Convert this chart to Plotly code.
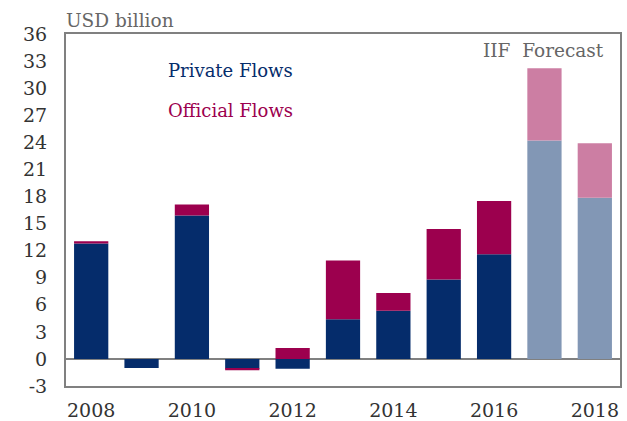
import plotly.graph_objects as go

# Capital flows, USD billion (2017-2018 are IIF forecasts)
years = ["2008", "2009", "2010", "2011", "2012", "2013", "2014", "2015", "2016", "2017", "2018"]
private_flows = [12.8, -1.0, 15.9, -1.1, -1.1, 4.4, 5.35, 8.8, 11.6, 24.2, 17.85]
official_flows = [0.25, 0.0, 1.2, -0.15, 1.2, 6.5, 1.95, 5.6, 5.9, 8.0, 6.05]
forecast_years = ["2017", "2018"]
tick_years = ["2008", "2010", "2012", "2014", "2016", "2018"]
y_ticks = [-3, 0, 3, 6, 9, 12, 15, 18, 21, 24, 27, 30, 33, 36]

NAVY, CRIMSON = "#052c6b", "#9c004e"
NAVY_FC, CRIMSON_FC = "#8297b5", "#cc7ea3"

priv_colors = [NAVY_FC if y in forecast_years else NAVY for y in years]
off_colors = [CRIMSON_FC if y in forecast_years else CRIMSON for y in years]

FONT = "Georgia, 'DejaVu Serif', serif"

fig = go.Figure()
fig.add_trace(go.Bar(x=years, y=private_flows, marker=dict(color=priv_colors, line=dict(width=0)),
                     name="Private Flows", width=0.68))
fig.add_trace(go.Bar(x=years, y=official_flows, marker=dict(color=off_colors, line=dict(width=0)),
                     name="Official Flows", width=0.68))

fig.update_layout(
    width=627, height=421,
    margin=dict(l=66, r=7, t=34, b=35),
    barmode="relative",
    showlegend=False,
    plot_bgcolor="white", paper_bgcolor="white",
    font=dict(family=FONT, size=18, color="#333333"),
    xaxis=dict(type="category", range=[-0.5, 10.5], tickmode="array", tickvals=tick_years,
               ticktext=tick_years, showline=True, mirror=True, linecolor="#808080", linewidth=2,
               ticks="", showgrid=False, tickfont=dict(size=19, color="#333333"), ticklabelstandoff=6,
               automargin=False),
    yaxis=dict(range=[-3, 36], tickmode="array", tickvals=y_ticks, ticktext=[str(v) for v in y_ticks],
               showline=True, mirror=True, linecolor="#808080",
               linewidth=2, ticks="", showgrid=False, zeroline=True, zerolinecolor="#808080",
               zerolinewidth=2, tickfont=dict(size=19, color="#333333"), ticklabelstandoff=13,
               automargin=False),
    annotations=[
        dict(text="USD billion", xref="paper", yref="paper", x=0, y=1, xanchor="left", yanchor="bottom",
             showarrow=False, font=dict(size=18.5, color="#666666"), yshift=1, xshift=-2),
        dict(text="Private Flows", xref="x", yref="y", x=1.5, y=32.0, xanchor="left", yanchor="middle",
             showarrow=False, font=dict(size=18, color=NAVY), xshift=-1),
        dict(text="Official Flows", xref="x", yref="y", x=1.5, y=27.5, xanchor="left", yanchor="middle",
             showarrow=False, font=dict(size=18, color=CRIMSON), xshift=-1),
        dict(text="IIF  Forecast", xref="paper", yref="y", x=0.975, y=34.15, xanchor="right",
             yanchor="middle", showarrow=False, font=dict(size=18.5, color="#666666")),
    ],
)

fig.write_html("out.html")
